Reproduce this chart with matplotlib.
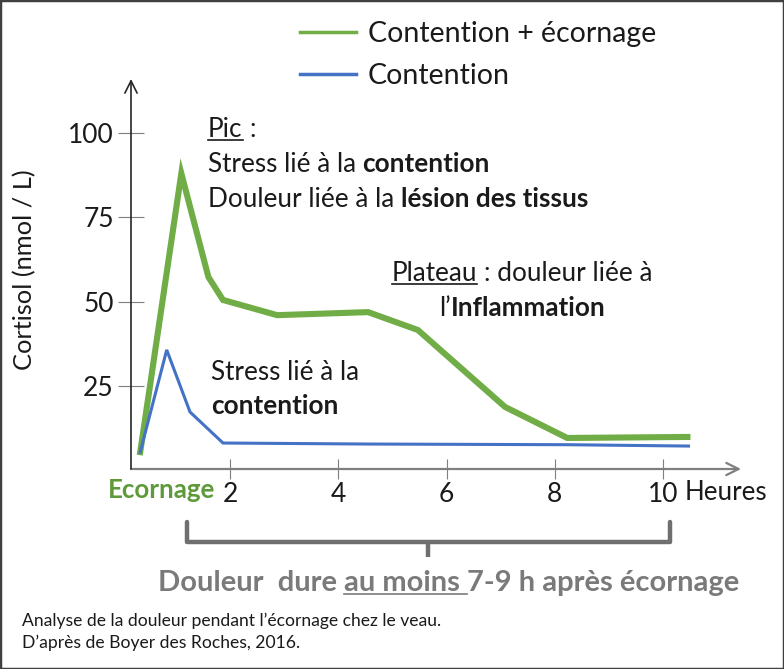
import matplotlib
matplotlib.use('Agg')
import matplotlib.pyplot as plt
from matplotlib.lines import Line2D
from matplotlib.patches import Rectangle

plt.rcParams['font.family'] = ['Lato', 'DejaVu Sans']

# data
hours_ecornage = [0.34, 1.10, 1.60, 1.87, 2.87, 4.55, 5.47, 7.08, 8.23, 10.45]
cortisol_ecornage = [5.4, 88.0, 57.3, 50.5, 46.0, 46.9, 41.6, 18.8, 9.6, 9.9]
hours_contention = [0.34, 0.83, 1.26, 1.87, 4.55, 8.23, 10.47]
cortisol_contention = [5.4, 35.7, 17.3, 8.1, 7.8, 7.6, 7.2]
x_ticks = [2, 4, 6, 8, 10]
y_ticks = [25, 50, 75, 100]
series_labels = ['Contention + écornage', 'Contention']

GREEN = '#70ad47'
BLUE = '#4472c4'
GREY = '#7a7a7a'
TXT = '#1a1a1a'

W, H = 784, 669
fig = plt.figure(figsize=(W / 100, H / 100), dpi=100)
ax = fig.add_axes([131 / W, 1 - 469 / H, (741 - 131) / W, (469 - 79) / H])
ax.set_xlim(0.17, 11.44)
ax.set_ylim(0.4, 116)

l1, = ax.plot(hours_ecornage, cortisol_ecornage, color=GREEN, lw=4.4,
              solid_joinstyle='miter', clip_on=False)
l2, = ax.plot(hours_contention, cortisol_contention, color=BLUE, lw=2.2,
              solid_joinstyle='miter', clip_on=False)

for s in ax.spines.values():
    s.set_visible(False)
ax.annotate('', xy=(1, 0), xytext=(0, 0), xycoords='axes fraction',
            arrowprops=dict(arrowstyle='->', color='#7f7f7f', lw=1.6,
                            shrinkA=0, shrinkB=0, mutation_scale=22))
ax.annotate('', xy=(0, 1), xytext=(0, 0), xycoords='axes fraction',
            arrowprops=dict(arrowstyle='->', color='#262626', lw=1.2,
                            shrinkA=0, shrinkB=0, mutation_scale=22))

ax.set_xticks(x_ticks)
ax.set_yticks(y_ticks)
ax.tick_params(axis='y', direction='inout', length=19, width=0.8,
               color='#7f7f7f', labelsize=19, labelcolor=TXT, pad=3)
ax.tick_params(axis='x', direction='inout', length=15, width=0.8,
               color='#7f7f7f', labelsize=19, labelcolor=TXT, pad=2)
ax.set_ylabel('Cortisol (nmol / L)', fontsize=18.3, color=TXT)
ax.yaxis.set_label_coords(-0.155, 0.51)

# legend
h1 = Line2D([], [], color=GREEN, lw=2.5)
h2 = Line2D([], [], color=BLUE, lw=2.5)
fig.legend([h1, h2], series_labels, loc='upper left',
           bbox_to_anchor=(300 / W, 1 - 21 / H), frameon=False, fontsize=20.5,
           handlelength=1.97, handletextpad=0.42, labelspacing=0.55,
           borderpad=0, borderaxespad=0, labelcolor=TXT)

renderer = fig.canvas.get_renderer()


def fx(px):
    return px / W


def fy(py):
    return 1 - py / H


def width_of(s, size, weight):
    t = fig.text(0, 0, s, fontsize=size, fontweight=weight)
    w = t.get_window_extent(renderer).width
    t.remove()
    return w


def rich(x, y, parts, size, color=TXT):
    # parts: (text, bold, underline, space before)
    for s, bold, ul, gap in parts:
        weight = 'bold' if bold else 'normal'
        if gap:
            x += width_of('a a', size, weight) - width_of('aa', size, weight)
        t = fig.text(fx(x), fy(y), s, fontsize=size, fontweight=weight,
                     color=color, ha='left', va='baseline')
        bb = t.get_window_extent(renderer)
        x1 = x + bb.width
        if ul:
            end = x1
            if ul == 2:
                end += width_of('a a', size, weight) - width_of('aa', size, weight)
            fig.add_artist(Line2D([fx(x), fx(end)], [fy(y + 3), fy(y + 3)],
                                  color=color, lw=1.2))
        x = x1


size_a = 18.8
rich(208, 137, [('Pic', False, 1, False), (':', False, 0, True)], size_a)
rich(208, 172, [('Stress lié à la', False, 0, False),
                ('contention', True, 0, True)], size_a)
rich(208, 207, [('Douleur liée à la', False, 0, False),
                ('lésion des tissus', True, 0, True)], size_a)
rich(392, 281, [('Plateau', False, 1, False),
                (': douleur liée à', False, 0, True)], size_a)
rich(439, 316, [('l\u2019', False, 0, False),
                ('Inflammation', True, 0, False)], size_a)
rich(211, 380, [('Stress lié à la', False, 0, False)], size_a)
rich(211, 414, [('contention', True, 0, False)], size_a)

fig.text(fx(162), fy(490), 'Ecornage', fontsize=18.6, fontweight='bold',
         color='#5e9a3a', ha='center', va='center')
fig.text(fx(685), fy(492), 'Heures', fontsize=18.6, color=TXT,
         ha='left', va='center')

# bracket under the time axis
bx = [187, 187, 670, 670]
by = [522, 542, 542, 522]
fig.add_artist(Line2D([fx(v) for v in bx], [fy(v) for v in by], color='#6f6f6f',
                      lw=3.2, solid_joinstyle='round', solid_capstyle='round'))
fig.add_artist(Line2D([fx(428), fx(428)], [fy(542), fy(557)], color='#6f6f6f',
                      lw=3.2, solid_capstyle='butt'))

rich(158, 591, [('Douleur  dure', True, 0, False),
                ('au moins', True, 2, True),
                ('7-9 h après écornage', True, 0, True)], 21, color=GREY)

fig.text(fx(22), fy(626), 'Analyse de la douleur pendant l\u2019écornage chez le veau.',
         fontsize=12.6, color=TXT, ha='left', va='baseline')
fig.text(fx(22), fy(648), 'D\u2019après de Boyer des Roches, 2016.',
         fontsize=12.6, color=TXT, ha='left', va='baseline')

fig.add_artist(Rectangle((0, 0), 1, 1, transform=fig.transFigure, fill=False,
                         edgecolor='#404040', lw=2.5))

fig.savefig('out.png', dpi=100)
